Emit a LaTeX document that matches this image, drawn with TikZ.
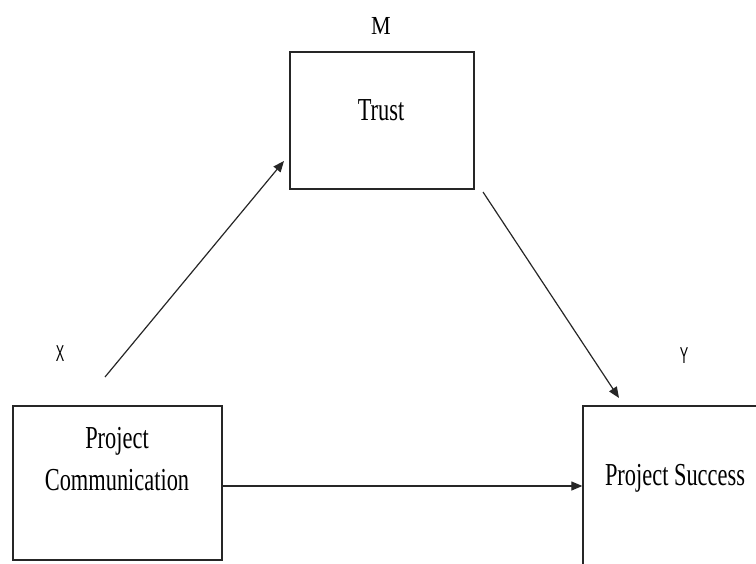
\documentclass[tikz,border=0pt]{standalone}
\usepackage{fontspec}
\usetikzlibrary{arrows.meta}
\newfontfamily\serifc[FakeStretch=0.70]{Liberation Serif}
\newfontfamily\serifm[FakeStretch=0.85]{Liberation Serif}
\newfontfamily\sansc[FakeStretch=0.55]{Liberation Sans}
\tikzset{
  boxshape/.style={draw=black!85, line width=1.3pt, rectangle, inner sep=0pt},
  boxtext/.style={font=\serifc\fontsize{32}{42}\selectfont, align=center, inner sep=0pt},
  mlabel/.style={font=\serifm\fontsize{26}{30}\selectfont, inner sep=0pt},
  xylabel/.style={font=\sansc\fontsize{23}{26}\selectfont, inner sep=0pt},
  conn/.style={draw=black!85, line width=1.2pt, -{Triangle[length=11pt,width=9pt]}}
}
\begin{document}
\begin{tikzpicture}[x=1pt,y=-1pt]
\useasboundingbox (0,0) rectangle (756,563);
% boxes
\node[boxshape, minimum width=184pt, minimum height=137pt] (trust) at (382,120.5) {};
\node[boxshape, minimum width=209pt, minimum height=154pt] (comm) at (117.5,483) {};
\node[boxshape, minimum width=190pt, minimum height=170pt] (succ) at (678,491) {};
% texts
\node[boxtext] (trustt) at (381,110) {Trust};
\node[boxtext] (commt) at (117,459) {Project\\Communication};
\node[boxtext] (succt) at (675,478) {Project Success};
\node[mlabel] (mlab) at (381,26) {M};
\node[xylabel] (xlab) at (60,354) {X};
\node[xylabel] (ylab) at (684,356) {Y};
% connector end points
\coordinate (a1s) at (105,377);
\coordinate (a1e) at (284,161);
\coordinate (a2s) at (483,192);
\coordinate (a2e) at (619,398);
\draw[conn] (a1s) -- (a1e);
\draw[conn] (a2s) -- (a2e);
\draw[conn] (comm.east |- 0,486) -- (succ.west |- 0,486);
\end{tikzpicture}
\end{document}
